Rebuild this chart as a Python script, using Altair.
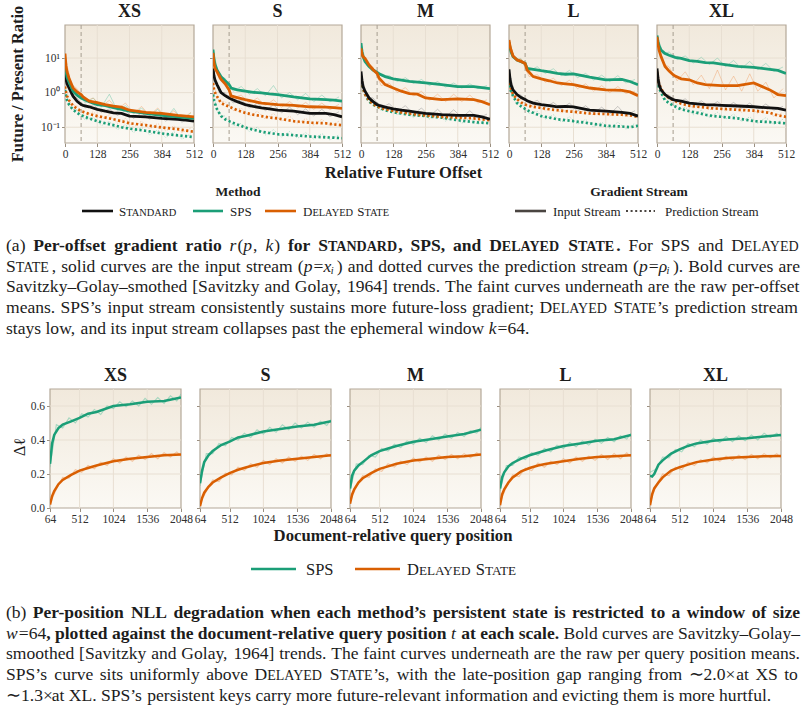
import altair as alt
import pandas as pd

FONT = "Liberation Serif"
INK = "#1c1c1c"
LABEL = "#2f2f2f"
FRAME = "#b4a898"
TICK = "#9a8f80"
GRID = "#e8dfd2"
BG_TOP = "#f1e9dc"
BG_BOTTOM = "#fbf9f4"
WINDOW_COLOR = "#ada597"

SCALE_NAMES = ["XS", "S", "M", "L", "XL"]
METHOD_COLORS = {"Standard": "#111111", "SPS": "#1b9e77", "Delayed State": "#d95f02"}
RAW_COLORS = {"Standard": "#8c8c8c", "SPS": "#67c4a4", "Delayed State": "#efa066"}

# ---------------------------------------------------------------- (a) data
OFFSETS = [0, 4, 8, 16, 32, 48, 64, 72, 96, 128, 160, 192, 224, 256, 320, 384, 448, 480, 512]
RAW_OFFSETS = [2, 24, 48, 80, 112, 144, 176, 208, 240, 272, 304, 336, 368, 400, 432, 464, 500]
OFFSET_TICKS = [0, 128, 256, 384, 512]
OFFSET_GRID = [128, 256, 384]
RATIO_TICKS = [0.1, 1, 10]
EPHEMERAL_WINDOW = [64]

XS_STANDARD = [4.1, 2.4, 1.8, 1.36, 0.79, 0.56, 0.45, 0.43, 0.39, 0.33, 0.29, 0.26, 0.25, 0.21, 0.20, 0.18, 0.17, 0.16, 0.15]
XS_SPS_INPUT = [8.0, 4.0, 2.8, 2.0, 1.1, 0.85, 0.70, 0.65, 0.55, 0.45, 0.42, 0.37, 0.33, 0.29, 0.25, 0.22, 0.20, 0.19, 0.18]
XS_SPS_PRED = [1.2, 0.8, 0.6, 0.45, 0.32, 0.26, 0.22, 0.21, 0.18, 0.15, 0.13, 0.115, 0.10, 0.091, 0.079, 0.066, 0.058, 0.055, 0.052]
XS_DS_INPUT = [13.5, 6.0, 4.0, 2.6, 1.36, 1.05, 0.88, 0.75, 0.57, 0.51, 0.45, 0.41, 0.38, 0.31, 0.27, 0.25, 0.22, 0.21, 0.20]
XS_DS_PRED = [1.5, 1.0, 0.8, 0.6, 0.42, 0.34, 0.29, 0.28, 0.24, 0.21, 0.19, 0.17, 0.15, 0.13, 0.115, 0.098, 0.088, 0.080, 0.074]

S_STANDARD = [5.0, 3.0, 2.3, 1.7, 1.0, 0.82, 0.70, 0.65, 0.55, 0.45, 0.40, 0.36, 0.34, 0.31, 0.29, 0.25, 0.25, 0.23, 0.20]
S_SPS_INPUT = [17.6, 9.0, 6.5, 4.5, 2.9, 2.2, 1.7, 1.36, 1.2, 1.1, 1.02, 0.98, 0.92, 0.88, 0.75, 0.66, 0.63, 0.61, 0.57]
S_SPS_PRED = [0.88, 0.6, 0.48, 0.33, 0.21, 0.17, 0.15, 0.14, 0.12, 0.098, 0.085, 0.074, 0.068, 0.063, 0.059, 0.054, 0.051, 0.050, 0.048]
S_DS_INPUT = [14.0, 7.0, 5.0, 4.0, 2.4, 1.8, 1.2, 0.80, 0.72, 0.63, 0.56, 0.50, 0.47, 0.45, 0.43, 0.39, 0.38, 0.37, 0.35]
S_DS_PRED = [1.9, 1.2, 1.0, 0.78, 0.50, 0.44, 0.39, 0.37, 0.31, 0.26, 0.23, 0.21, 0.19, 0.18, 0.15, 0.135, 0.13, 0.12, 0.115]

M_STANDARD = [4.1, 2.2, 1.5, 1.1, 0.70, 0.55, 0.45, 0.43, 0.38, 0.34, 0.31, 0.29, 0.27, 0.25, 0.23, 0.22, 0.22, 0.20, 0.17]
M_SPS_INPUT = [27.0, 15.0, 11.0, 7.9, 5.7, 4.5, 3.8, 3.5, 2.9, 2.5, 2.3, 2.1, 2.0, 1.9, 1.7, 1.5, 1.5, 1.4, 1.3]
M_SPS_PRED = [3.0, 1.8, 1.3, 0.9, 0.55, 0.45, 0.39, 0.37, 0.31, 0.27, 0.25, 0.23, 0.22, 0.21, 0.19, 0.16, 0.14, 0.135, 0.13]
M_DS_INPUT = [19.0, 13.0, 11.0, 9.8, 6.3, 4.6, 3.6, 2.6, 1.7, 1.36, 1.1, 0.94, 0.90, 0.70, 0.63, 0.66, 0.63, 0.55, 0.45]
M_DS_PRED = [3.0, 1.9, 1.4, 0.9, 0.6, 0.47, 0.40, 0.38, 0.33, 0.30, 0.27, 0.25, 0.23, 0.22, 0.20, 0.19, 0.18, 0.17, 0.16]

L_STANDARD = [4.7, 2.5, 1.7, 1.2, 0.88, 0.72, 0.63, 0.58, 0.50, 0.45, 0.42, 0.39, 0.40, 0.39, 0.31, 0.29, 0.27, 0.25, 0.21]
L_SPS_INPUT = [29.0, 20.0, 15.0, 11.0, 8.8, 7.8, 7.0, 5.0, 4.7, 4.3, 4.0, 3.6, 3.4, 3.5, 2.8, 2.35, 2.4, 2.1, 1.7]
L_SPS_PRED = [3.0, 1.6, 1.1, 0.8, 0.5, 0.4, 0.34, 0.31, 0.26, 0.21, 0.19, 0.17, 0.16, 0.15, 0.13, 0.11, 0.105, 0.10, 0.11]
L_DS_INPUT = [33.0, 22.0, 17.0, 11.4, 8.8, 8.0, 7.0, 4.5, 2.9, 2.5, 2.2, 1.9, 1.8, 1.7, 1.36, 1.2, 1.16, 1.05, 0.82]
L_DS_PRED = [3.5, 2.0, 1.3, 0.9, 0.65, 0.52, 0.45, 0.43, 0.39, 0.36, 0.33, 0.31, 0.29, 0.28, 0.25, 0.24, 0.23, 0.22, 0.20]

XL_STANDARD = [5.0, 2.6, 1.7, 1.2, 0.88, 0.72, 0.63, 0.61, 0.57, 0.50, 0.47, 0.45, 0.44, 0.43, 0.41, 0.39, 0.36, 0.35, 0.31]
XL_SPS_INPUT = [45.0, 30.0, 23.0, 17.0, 13.5, 12.0, 11.0, 10.5, 9.8, 8.4, 8.0, 7.4, 7.2, 6.7, 5.7, 5.4, 4.7, 4.4, 3.6]
XL_SPS_PRED = [3.0, 1.8, 1.4, 1.0, 0.6, 0.5, 0.42, 0.40, 0.33, 0.29, 0.26, 0.23, 0.21, 0.20, 0.18, 0.15, 0.14, 0.135, 0.13]
XL_DS_INPUT = [41.0, 25.0, 17.0, 11.0, 5.7, 4.2, 3.3, 3.0, 2.5, 2.35, 1.9, 1.7, 1.65, 1.6, 1.6, 1.9, 1.2, 0.88, 0.82]
XL_DS_PRED = [4.0, 2.4, 1.8, 1.3, 0.85, 0.7, 0.6, 0.57, 0.48, 0.42, 0.39, 0.37, 0.35, 0.34, 0.32, 0.30, 0.26, 0.22, 0.20]

# raw per-offset means (faint curves)
XS_STANDARD_RAW = [3.3, 0.85, 0.7, 0.36, 0.45, 0.27, 0.34, 0.22, 0.3, 0.18, 0.26, 0.17, 0.24, 0.15, 0.22, 0.14, 0.19]
XS_SPS_INPUT_RAW = [6.5, 1.3, 1.1, 0.5, 0.7, 0.38, 0.9, 0.3, 0.42, 0.24, 0.36, 0.21, 0.33, 0.18, 0.35, 0.16, 0.26]
XS_SPS_PRED_RAW = [1.1, 0.33, 0.32, 0.16, 0.2, 0.11, 0.15, 0.085, 0.12, 0.07, 0.1, 0.06, 0.085, 0.05, 0.075, 0.045, 0.065]
XS_DS_INPUT_RAW = [10.0, 1.8, 1.3, 0.55, 0.7, 0.4, 0.6, 0.33, 0.5, 0.25, 0.4, 0.22, 0.36, 0.19, 0.3, 0.17, 0.27]
XS_DS_PRED_RAW = [1.4, 0.44, 0.42, 0.21, 0.28, 0.17, 0.23, 0.13, 0.18, 0.1, 0.15, 0.088, 0.13, 0.078, 0.11, 0.07, 0.095]

S_STANDARD_RAW = [4.4, 1.0, 1.0, 0.5, 0.62, 0.36, 0.5, 0.3, 0.45, 0.26, 0.38, 0.23, 0.34, 0.21, 0.33, 0.2, 0.28]
S_SPS_INPUT_RAW = [15.0, 2.9, 2.6, 1.1, 1.5, 0.9, 1.3, 0.82, 1.6, 0.7, 1.0, 0.62, 0.95, 0.55, 0.85, 0.54, 0.75]
S_SPS_PRED_RAW = [0.8, 0.23, 0.21, 0.11, 0.13, 0.075, 0.1, 0.06, 0.085, 0.052, 0.075, 0.048, 0.07, 0.045, 0.066, 0.043, 0.06]
S_DS_INPUT_RAW = [12.0, 2.5, 2.2, 0.7, 0.85, 0.5, 0.7, 0.42, 0.62, 0.38, 0.55, 0.36, 0.52, 0.33, 0.5, 0.32, 0.46]
S_DS_PRED_RAW = [1.7, 0.55, 0.55, 0.3, 0.36, 0.21, 0.29, 0.17, 0.25, 0.15, 0.21, 0.125, 0.18, 0.115, 0.17, 0.108, 0.15]

M_STANDARD_RAW = [3.3, 0.75, 0.7, 0.36, 0.48, 0.28, 0.42, 0.24, 0.36, 0.21, 0.33, 0.2, 0.32, 0.19, 0.3, 0.18, 0.24]
M_SPS_INPUT_RAW = [23.0, 6.0, 5.2, 3.0, 3.1, 2.1, 2.7, 1.85, 2.4, 1.6, 2.1, 1.45, 1.9, 1.35, 1.8, 1.3, 1.6]
M_SPS_PRED_RAW = [2.6, 0.62, 0.55, 0.3, 0.36, 0.23, 0.3, 0.19, 0.28, 0.17, 0.24, 0.15, 0.21, 0.13, 0.19, 0.12, 0.17]
M_DS_INPUT_RAW = [18.0, 7.0, 5.5, 1.6, 1.9, 1.0, 1.4, 0.8, 1.1, 0.6, 0.9, 0.55, 0.9, 0.55, 0.85, 0.5, 0.62]
M_DS_PRED_RAW = [2.6, 0.65, 0.58, 0.32, 0.4, 0.25, 0.33, 0.21, 0.29, 0.18, 0.26, 0.17, 0.25, 0.16, 0.23, 0.15, 0.2]

L_STANDARD_RAW = [3.6, 0.9, 0.85, 0.48, 0.6, 0.38, 0.52, 0.34, 0.5, 0.29, 0.42, 0.26, 0.38, 0.24, 0.4, 0.22, 0.3]
L_SPS_INPUT_RAW = [25.0, 9.0, 9.5, 4.3, 5.6, 3.6, 4.9, 3.1, 4.4, 2.7, 3.6, 2.3, 3.2, 2.1, 3.1, 1.9, 2.4]
L_SPS_PRED_RAW = [2.5, 0.53, 0.5, 0.25, 0.29, 0.17, 0.23, 0.14, 0.2, 0.12, 0.17, 0.1, 0.14, 0.092, 0.14, 0.088, 0.13]
L_DS_INPUT_RAW = [28.0, 9.0, 9.4, 2.9, 3.3, 2.0, 2.6, 1.6, 2.3, 1.3, 1.8, 1.1, 1.6, 1.0, 1.5, 0.95, 1.1]
L_DS_PRED_RAW = [2.8, 0.68, 0.62, 0.37, 0.46, 0.3, 0.4, 0.26, 0.36, 0.24, 0.32, 0.22, 0.3, 0.21, 0.29, 0.2, 0.25]

XL_STANDARD_RAW = [3.8, 0.9, 0.85, 0.53, 0.66, 0.43, 0.58, 0.39, 0.55, 0.37, 0.52, 0.35, 0.5, 0.33, 0.47, 0.31, 0.4]
XL_SPS_INPUT_RAW = [42.0, 13.0, 15.0, 9.0, 11.5, 7.2, 10.5, 6.5, 10.0, 5.6, 8.5, 5.0, 8.0, 4.6, 7.0, 4.1, 5.5]
XL_SPS_PRED_RAW = [2.7, 0.66, 0.62, 0.31, 0.38, 0.23, 0.31, 0.19, 0.27, 0.17, 0.24, 0.145, 0.2, 0.13, 0.19, 0.12, 0.17]
XL_DS_INPUT_RAW = [36.0, 7.0, 5.5, 2.2, 4.0, 1.7, 3.2, 1.3, 4.5, 1.2, 3.0, 1.1, 3.5, 1.1, 2.0, 0.7, 1.3]
XL_DS_PRED_RAW = [3.6, 0.9, 0.85, 0.45, 0.56, 0.35, 0.5, 0.31, 0.46, 0.29, 0.43, 0.27, 0.4, 0.25, 0.36, 0.2, 0.27]

RATIO_SERIES = {
    "XS": [("Standard", "input", XS_STANDARD, XS_STANDARD_RAW),
           ("SPS", "input", XS_SPS_INPUT, XS_SPS_INPUT_RAW),
           ("SPS", "prediction", XS_SPS_PRED, XS_SPS_PRED_RAW),
           ("Delayed State", "input", XS_DS_INPUT, XS_DS_INPUT_RAW),
           ("Delayed State", "prediction", XS_DS_PRED, XS_DS_PRED_RAW)],
    "S": [("Standard", "input", S_STANDARD, S_STANDARD_RAW),
          ("SPS", "input", S_SPS_INPUT, S_SPS_INPUT_RAW),
          ("SPS", "prediction", S_SPS_PRED, S_SPS_PRED_RAW),
          ("Delayed State", "input", S_DS_INPUT, S_DS_INPUT_RAW),
          ("Delayed State", "prediction", S_DS_PRED, S_DS_PRED_RAW)],
    "M": [("Standard", "input", M_STANDARD, M_STANDARD_RAW),
          ("SPS", "input", M_SPS_INPUT, M_SPS_INPUT_RAW),
          ("SPS", "prediction", M_SPS_PRED, M_SPS_PRED_RAW),
          ("Delayed State", "input", M_DS_INPUT, M_DS_INPUT_RAW),
          ("Delayed State", "prediction", M_DS_PRED, M_DS_PRED_RAW)],
    "L": [("Standard", "input", L_STANDARD, L_STANDARD_RAW),
          ("SPS", "input", L_SPS_INPUT, L_SPS_INPUT_RAW),
          ("SPS", "prediction", L_SPS_PRED, L_SPS_PRED_RAW),
          ("Delayed State", "input", L_DS_INPUT, L_DS_INPUT_RAW),
          ("Delayed State", "prediction", L_DS_PRED, L_DS_PRED_RAW)],
    "XL": [("Standard", "input", XL_STANDARD, XL_STANDARD_RAW),
           ("SPS", "input", XL_SPS_INPUT, XL_SPS_INPUT_RAW),
           ("SPS", "prediction", XL_SPS_PRED, XL_SPS_PRED_RAW),
           ("Delayed State", "input", XL_DS_INPUT, XL_DS_INPUT_RAW),
           ("Delayed State", "prediction", XL_DS_PRED, XL_DS_PRED_RAW)],
}

# ---------------------------------------------------------------- (b) data
QUERY_POS = [64, 96, 128, 192, 256, 384, 512, 640, 768, 1024, 1280, 1536, 1792, 2048]
RAW_QUERY_POS = [64, 160, 256, 352, 448, 544, 640, 736, 832, 928, 1024, 1120, 1216, 1312,
                 1408, 1504, 1600, 1696, 1792, 1888, 1984, 2048]
POS_TICKS = [64, 512, 1024, 1536, 2048]
POS_GRID = [512, 1024, 1536]
NLL_TICKS = [0.0, 0.2, 0.4, 0.6]

XS_SPS_NLL = [0.26, 0.38, 0.43, 0.47, 0.49, 0.51, 0.53, 0.555, 0.565, 0.60, 0.61, 0.625, 0.63, 0.65]
XS_DS_NLL = [0.02, 0.07, 0.10, 0.14, 0.165, 0.195, 0.22, 0.235, 0.25, 0.275, 0.29, 0.30, 0.31, 0.315]
S_SPS_NLL = [0.145, 0.22, 0.27, 0.31, 0.335, 0.37, 0.39, 0.415, 0.425, 0.45, 0.465, 0.48, 0.49, 0.51]
S_DS_NLL = [0.01, 0.06, 0.09, 0.125, 0.15, 0.18, 0.205, 0.225, 0.24, 0.265, 0.28, 0.29, 0.30, 0.31]
M_SPS_NLL = [0.115, 0.19, 0.22, 0.25, 0.27, 0.31, 0.335, 0.35, 0.365, 0.39, 0.405, 0.42, 0.435, 0.46]
M_DS_NLL = [0.025, 0.08, 0.11, 0.15, 0.175, 0.205, 0.23, 0.245, 0.26, 0.28, 0.29, 0.30, 0.305, 0.315]
L_SPS_NLL = [0.114, 0.18, 0.21, 0.245, 0.265, 0.29, 0.31, 0.325, 0.34, 0.365, 0.38, 0.395, 0.405, 0.43]
L_DS_NLL = [0.016, 0.08, 0.11, 0.15, 0.18, 0.215, 0.235, 0.25, 0.26, 0.275, 0.29, 0.30, 0.305, 0.31]
XL_SPS_NLL = [0.19, 0.185, 0.20, 0.255, 0.28, 0.32, 0.345, 0.365, 0.38, 0.395, 0.405, 0.41, 0.42, 0.43]
XL_DS_NLL = [0.016, 0.08, 0.115, 0.15, 0.18, 0.22, 0.24, 0.255, 0.27, 0.285, 0.295, 0.30, 0.305, 0.306]

XS_SPS_NLL_RAW = [0.24, 0.49, 0.47, 0.53, 0.5, 0.555, 0.535, 0.58, 0.55, 0.6, 0.585, 0.625, 0.595, 0.63, 0.6, 0.645, 0.61, 0.65, 0.615, 0.66, 0.63, 0.67]
XS_DS_NLL_RAW = [0.03, 0.11, 0.18, 0.175, 0.225, 0.21, 0.25, 0.23, 0.27, 0.25, 0.29, 0.265, 0.3, 0.275, 0.31, 0.285, 0.32, 0.29, 0.325, 0.3, 0.33, 0.305]
S_SPS_NLL_RAW = [0.13, 0.32, 0.32, 0.38, 0.365, 0.415, 0.4, 0.44, 0.415, 0.46, 0.435, 0.475, 0.445, 0.49, 0.46, 0.5, 0.47, 0.505, 0.475, 0.51, 0.485, 0.52]
S_DS_NLL_RAW = [0.02, 0.1, 0.165, 0.155, 0.205, 0.195, 0.24, 0.22, 0.26, 0.24, 0.28, 0.255, 0.29, 0.265, 0.3, 0.275, 0.305, 0.28, 0.315, 0.29, 0.32, 0.3]
M_SPS_NLL_RAW = [0.1, 0.26, 0.255, 0.31, 0.3, 0.35, 0.335, 0.375, 0.355, 0.395, 0.375, 0.41, 0.385, 0.425, 0.4, 0.435, 0.41, 0.445, 0.42, 0.455, 0.44, 0.475]
M_DS_NLL_RAW = [0.035, 0.125, 0.19, 0.18, 0.23, 0.215, 0.26, 0.24, 0.275, 0.255, 0.295, 0.27, 0.3, 0.275, 0.31, 0.285, 0.315, 0.29, 0.32, 0.295, 0.325, 0.305]
L_SPS_NLL_RAW = [0.1, 0.25, 0.25, 0.3, 0.285, 0.325, 0.31, 0.35, 0.33, 0.37, 0.35, 0.385, 0.36, 0.395, 0.37, 0.405, 0.38, 0.415, 0.39, 0.425, 0.405, 0.44]
L_DS_NLL_RAW = [0.03, 0.125, 0.195, 0.185, 0.235, 0.22, 0.265, 0.24, 0.275, 0.255, 0.29, 0.265, 0.3, 0.275, 0.305, 0.28, 0.315, 0.285, 0.32, 0.29, 0.325, 0.3]
XL_SPS_NLL_RAW = [0.21, 0.23, 0.3, 0.295, 0.345, 0.33, 0.38, 0.36, 0.4, 0.375, 0.41, 0.385, 0.42, 0.39, 0.425, 0.395, 0.43, 0.4, 0.44, 0.415, 0.44, 0.42]
XL_DS_NLL_RAW = [0.03, 0.135, 0.2, 0.19, 0.24, 0.225, 0.27, 0.25, 0.285, 0.265, 0.3, 0.275, 0.305, 0.28, 0.31, 0.285, 0.315, 0.29, 0.32, 0.295, 0.32, 0.295]

NLL_SERIES = {
    "XS": [("SPS", XS_SPS_NLL, XS_SPS_NLL_RAW), ("Delayed State", XS_DS_NLL, XS_DS_NLL_RAW)],
    "S": [("SPS", S_SPS_NLL, S_SPS_NLL_RAW), ("Delayed State", S_DS_NLL, S_DS_NLL_RAW)],
    "M": [("SPS", M_SPS_NLL, M_SPS_NLL_RAW), ("Delayed State", M_DS_NLL, M_DS_NLL_RAW)],
    "L": [("SPS", L_SPS_NLL, L_SPS_NLL_RAW), ("Delayed State", L_DS_NLL, L_DS_NLL_RAW)],
    "XL": [("SPS", XL_SPS_NLL, XL_SPS_NLL_RAW), ("Delayed State", XL_DS_NLL, XL_DS_NLL_RAW)],
}

# ---------------------------------------------------------------- captions
CAPTION_A = [
    [("n", "(a) "), ("b", "Per-offset gradient ratio "), ("i", "r"), ("n", "("), ("i", "p"), ("n", ", "),
     ("i", "k"), ("n", ")"), ("b", " for S"), ("bsc", "tandard"), ("b", ", SPS, and D"), ("bsc", "elayed"),
     ("b", " S"), ("bsc", "tate"), ("b", "."), ("n", " For SPS and D"), ("sc", "elayed")],
    [("n", "S"), ("sc", "tate"), ("n", ", solid curves are the input stream ("), ("i", "p"), ("n", "="),
     ("i", "xᵢ"), ("n", ") and dotted curves the prediction stream ("), ("i", "p"), ("n", "="),
     ("i", "ρᵢ"), ("n", "). Bold curves are")],
    [("n", "Savitzky–Golay–smothed [Savitzky and Golay, 1964] trends. The faint curves underneath are the raw per-offset")],
    [("n", "means. SPS’s input stream consistently sustains more future-loss gradient; D"), ("sc", "elayed"),
     ("n", " S"), ("sc", "tate"), ("n", "’s prediction stream")],
    [("n", "stays low, and its input stream collapses past the ephemeral window "), ("i", "k"), ("n", "=64.")],
]
CAPTION_B = [
    [("n", "(b) "), ("b", "Per-position NLL degradation when each method’s persistent state is restricted to a window of size")],
    [("i", "w"), ("n", "=64"), ("b", ", plotted against the document-relative query position "), ("i", "t"),
     ("b", " at each scale."), ("n", " Bold curves are Savitzky–Golay–")],
    [("n", "smoothed [Savitzky and Golay, 1964] trends. The faint curves underneath are the raw per query position means.")],
    [("n", "SPS’s curve sits uniformly above D"), ("sc", "elayed"), ("n", " S"), ("sc", "tate"),
     ("n", "’s, with the late-position gap ranging from ∼2.0× at XS to")],
    [("n", "∼1.3× at XL. SPS’s persistent keys carry more future-relevant information and evicting them is more hurtful.")],
]

# ---------------------------------------------------------------- text metrics (Times-compatible)
_UP = "ABCDEFGHIJKLMNOPQRSTUVWXYZ"
_LO = "abcdefghijklmnopqrstuvwxyz"
ROMAN = dict(zip(_UP, [722, 667, 667, 722, 611, 556, 722, 722, 333, 389, 722, 611, 889, 722, 722, 556, 722, 667, 556, 611, 722, 722, 944, 722, 722, 611]))
ROMAN.update(zip(_LO, [444, 500, 444, 500, 444, 333, 500, 500, 278, 278, 500, 278, 778, 500, 500, 500, 500, 333, 389, 278, 500, 500, 722, 500, 500, 444]))
BOLD = dict(zip(_UP, [722, 667, 722, 722, 667, 611, 778, 778, 389, 500, 778, 667, 944, 722, 778, 611, 778, 722, 556, 667, 722, 722, 1000, 722, 722, 667]))
BOLD.update(zip(_LO, [500, 556, 444, 556, 444, 333, 500, 556, 278, 333, 556, 278, 833, 556, 500, 556, 556, 444, 389, 333, 556, 500, 722, 500, 500, 444]))
ITALIC = dict(zip(_LO, [500, 500, 444, 500, 444, 278, 500, 500, 278, 278, 444, 278, 722, 500, 500, 500, 500, 389, 389, 278, 500, 444, 667, 444, 444, 389]))
_PUNCT = {" ": 250, "(": 333, ")": 333, ",": 250, ".": 250, "-": 333, "–": 500, "’": 333, "[": 333,
          "]": 333, ";": 278, ":": 278, "=": 564, "×": 564, "∼": 541, "ρ": 500, "/": 278, "ᵢ": 250}
for _table in (ROMAN, BOLD, ITALIC):
    _table.update({d: 500 for d in "0123456789"})
    _table.update(_PUNCT)

SMALL_CAP = 0.8
ITALIC_CORRECTION = 0.06


def glyph_width(ch, style):
    table = BOLD if style in ("b", "bsc") else ITALIC if style == "i" else ROMAN
    if style in ("sc", "bsc"):
        return table.get(ch.upper(), 600) * SMALL_CAP
    return table.get(ch, ROMAN.get(ch, 500))


def run_width(text, style, fs):
    w = sum(glyph_width(c, style) for c in text) * fs / 1000.0
    if style == "i":
        w += ITALIC_CORRECTION * fs  # room for the slanted glyph's overhang
    return w


def split_runs(runs):
    pieces, gap = [], False
    for style, txt in runs:
        for j, part in enumerate(txt.split(" ")):
            if j > 0:
                gap = True
            if part:
                pieces.append((style, part, gap))
                gap = False
    return pieces


def natural_width(runs, fs):
    pieces = split_runs(runs)
    return sum(run_width(t, s, fs) for s, t, _ in pieces) + 0.25 * fs * sum(1 for *_, g in pieces if g)


def set_line(runs, x0, y, fs, width=None):
    pieces = split_runs(runs)
    space = 0.25 * fs
    gaps = sum(1 for *_, g in pieces if g)
    extra = (width - natural_width(runs, fs)) / gaps if (width and gaps) else 0.0
    items, x, prev = [], x0, None
    for style, text, gap in pieces:
        if gap:
            x += space + extra
        elif prev in ("sc", "bsc") and text.startswith("’"):
            x -= 0.12 * fs  # tuck the apostrophe against a small-cap word
        size = fs * (SMALL_CAP if style in ("sc", "bsc") else 1.0)
        items.append({
            "x": x, "y": y,
            "text": text.upper() if style in ("sc", "bsc") else text,
            "size": size, "weight": "bold" if style in ("b", "bsc") else "normal",
            "italic": style == "i", "align": "left",
        })
        x += run_width(text, style, fs)
        prev = style
    return items


def centered(text, x, y, fs, weight="bold"):
    return [{"x": x, "y": y, "text": text, "size": fs, "weight": weight, "italic": False, "align": "center"}]


def text_layers(items):
    df = pd.DataFrame(items)
    layers = []
    for (weight, italic, align), sub in df.groupby(["weight", "italic", "align"]):
        layers.append(
            alt.Chart(sub).mark_text(
                font=FONT, fontWeight=weight, fontStyle="italic" if italic else "normal",
                align=align, baseline="alphabetic", color=INK,
            ).encode(
                x=alt.X("x:Q", scale=None, axis=None),
                y=alt.Y("y:Q", scale=None, axis=None),
                text="text:N",
                size=alt.Size("size:Q", scale=None, legend=None),
            )
        )
    return layers


def swatch_layers(rows):
    df = pd.DataFrame(rows)
    layers = []
    for dotted, sub in df.groupby("dotted"):
        mark = (alt.Chart(sub).mark_rule(strokeWidth=2.2, strokeDash=[2, 2.6]) if dotted
                else alt.Chart(sub).mark_rule(strokeWidth=2.6))
        layers.append(mark.encode(
            x=alt.X("x:Q", scale=None, axis=None), x2="x2:Q",
            y=alt.Y("y:Q", scale=None, axis=None),
            color=alt.Color("color:N", scale=None),
        ))
    return layers


CAPTION_X, CAPTION_W = 6, 794
# the widest caption line fills the measure exactly; the rest are justified to it
CAPTION_FS = min(18.0, CAPTION_W / max(natural_width(r, 1.0) for r in CAPTION_A + CAPTION_B))


def caption_items(lines, baselines):
    items = []
    for k, (runs, y) in enumerate(zip(lines, baselines)):
        last = k == len(lines) - 1
        items += set_line(runs, CAPTION_X, y, CAPTION_FS, None if last else CAPTION_W)
    return items


ONE = pd.DataFrame({"k": [0]})
GRADIENT = alt.LinearGradient(
    gradient="linear",
    stops=[alt.GradientStop(color=BG_TOP, offset=0), alt.GradientStop(color=BG_BOTTOM, offset=1)],
    x1=0, x2=0, y1=0, y2=1,
)


def panel_background(w, h):
    return alt.Chart(ONE).mark_rect(color=GRADIENT, stroke=FRAME, strokeWidth=1.2).encode(
        x=alt.value(0), x2=alt.value(w), y=alt.value(0), y2=alt.value(h))


def axis_common():
    return dict(title=None, grid=False, domain=False, labelFlush=False, labelOverlap=False,
                tickSize=3.5, tickColor=TICK, tickWidth=1, labelFont=FONT, labelFontSize=11.5,
                labelColor=LABEL, labelPadding=2)


def panel_title(name):
    return alt.TitleParams(name, font=FONT, fontSize=18, fontWeight="bold", color=INK, offset=3, anchor="middle")


# ---------------------------------------------------------------- (a) panels
PW_A, PH_A = 129, 118


def ratio_panel(i, name):
    sx = alt.Scale(domain=[0, 512], nice=False, zero=False)
    sy = alt.Scale(type="log", domain=[0.035, 90], nice=False)
    ax = alt.Axis(values=OFFSET_TICKS, format="d", **axis_common())
    ykw = dict(values=RATIO_TICKS, labels=(i == 0), **axis_common())
    if i == 0:
        ykw["labelExpr"] = "datum.value > 5 ? '10¹' : (datum.value > 0.5 ? '10⁰' : '10⁻¹')"
    ay = alt.Axis(**ykw)

    rows, raw_rows = [], []
    for method, stream, smooth, raw in RATIO_SERIES[name]:
        for o, v in zip(OFFSETS, smooth):
            rows.append({"off": o, "val": v, "method": method, "stream": stream,
                         "color": METHOD_COLORS[method]})
        for o, v in zip(RAW_OFFSETS, raw):
            raw_rows.append({"off": o, "val": v, "method": method, "stream": stream,
                             "color": RAW_COLORS[method]})
    sm = pd.DataFrame(rows)
    rw = pd.DataFrame(raw_rows)

    def lines(df, **mark):
        return alt.Chart(df).mark_line(clip=True, **mark).encode(
            x=alt.X("off:Q", scale=sx, axis=ax),
            y=alt.Y("val:Q", scale=sy, axis=ay),
            color=alt.Color("color:N", scale=None),
            detail="method:N",
        )

    grid_x = alt.Chart(pd.DataFrame({"v": OFFSET_GRID})).mark_rule(color=GRID, strokeWidth=1).encode(
        x=alt.X("v:Q", scale=sx, axis=ax))
    grid_y = alt.Chart(pd.DataFrame({"v": RATIO_TICKS})).mark_rule(color=GRID, strokeWidth=1).encode(
        y=alt.Y("v:Q", scale=sy, axis=ay))
    window = alt.Chart(pd.DataFrame({"v": EPHEMERAL_WINDOW})).mark_rule(
        color=WINDOW_COLOR, strokeDash=[4, 3], strokeWidth=1.1).encode(x=alt.X("v:Q", scale=sx, axis=ax))

    return alt.layer(
        panel_background(PW_A, PH_A), grid_x, grid_y, window,
        lines(rw[rw.stream == "input"], strokeWidth=0.9, opacity=0.5),
        lines(rw[rw.stream == "prediction"], strokeWidth=0.9, opacity=0.5, strokeDash=[1.5, 1.5]),
        lines(sm[sm.stream == "prediction"], strokeWidth=2.7, strokeDash=[2.2, 2.4]),
        lines(sm[sm.stream == "input"], strokeWidth=2.8),
    ).properties(width=PW_A, height=PH_A, title=panel_title(name))


# ---------------------------------------------------------------- (b) panels
PW_B, PH_B = 131, 119


def nll_panel(i, name):
    sx = alt.Scale(domain=[64, 2048], nice=False, zero=False)
    sy = alt.Scale(domain=[0, 0.7], nice=False)
    ax = alt.Axis(values=POS_TICKS, format="d", **axis_common())
    ay = alt.Axis(values=NLL_TICKS, format=".1f", labels=(i == 0), **axis_common())

    rows, raw_rows = [], []
    for method, smooth, raw in NLL_SERIES[name]:
        for q, v in zip(QUERY_POS, smooth):
            rows.append({"pos": q, "val": v, "method": method, "color": METHOD_COLORS[method]})
        for q, v in zip(RAW_QUERY_POS, raw):
            raw_rows.append({"pos": q, "val": v, "method": method, "color": RAW_COLORS[method]})

    def lines(df, **mark):
        return alt.Chart(df).mark_line(clip=True, **mark).encode(
            x=alt.X("pos:Q", scale=sx, axis=ax),
            y=alt.Y("val:Q", scale=sy, axis=ay),
            color=alt.Color("color:N", scale=None),
            detail="method:N",
        )

    grid_x = alt.Chart(pd.DataFrame({"v": POS_GRID})).mark_rule(color=GRID, strokeWidth=1).encode(
        x=alt.X("v:Q", scale=sx, axis=ax))
    grid_y = alt.Chart(pd.DataFrame({"v": NLL_TICKS[1:]})).mark_rule(color=GRID, strokeWidth=1).encode(
        y=alt.Y("v:Q", scale=sy, axis=ay))

    return alt.layer(
        panel_background(PW_B, PH_B), grid_x, grid_y,
        lines(pd.DataFrame(raw_rows), strokeWidth=1.1, opacity=0.55),
        lines(pd.DataFrame(rows), strokeWidth=2.5),
    ).properties(width=PW_B, height=PH_B, title=panel_title(name))


def side_column(text, width, height, x, y, size, weight, above, below):
    """Left column of a row: the rotated y title plus an invisible rule that fixes the row's extent."""
    label = alt.Chart(pd.DataFrame({"t": [text]})).mark_text(
        font=FONT, fontSize=size, fontWeight=weight, angle=270, align="center",
        baseline="middle", color=INK,
    ).encode(x=alt.value(x), y=alt.value(y), text="t:N")
    extent = alt.Chart(ONE).mark_rule(opacity=0).encode(
        x=alt.value(1), y=alt.value(-above), y2=alt.value(height + below))
    return alt.layer(extent, label).properties(width=width, height=height)


# ---------------------------------------------------------------- assembly
top_row = alt.hconcat(
    side_column("Future / Present Ratio", 46, PH_A, 18, 59, 16.5, "bold", 25, 18),
    *[ratio_panel(i, n) for i, n in enumerate(SCALE_NAMES)],
    spacing=19, bounds="flush",
)

# legend + caption block under the gradient-ratio panels (starts 18 px below their plot area)
items_a = centered("Relative Future Offset", 403.5, 14.5, 16.5)
items_a += centered("Method", 238, 32.5, 13.5)
items_a += centered("Gradient Stream", 639, 32.5, 13.5)
items_a += set_line([("n", "S"), ("sc", "tandard")], 119, 52.5, 13)
items_a += set_line([("n", "SPS")], 230, 52.5, 13)
items_a += set_line([("n", "D"), ("sc", "elayed"), ("n", " S"), ("sc", "tate")], 303, 52.5, 13)
items_a += set_line([("n", "Input Stream")], 553, 52.5, 13)
items_a += set_line([("n", "Prediction Stream")], 665, 52.5, 13)
items_a += caption_items(CAPTION_A, [88, 109, 129, 150, 171])
swatches_a = [
    {"x": 82, "x2": 113, "y": 48, "color": METHOD_COLORS["Standard"], "dotted": False},
    {"x": 193, "x2": 223, "y": 48, "color": METHOD_COLORS["SPS"], "dotted": False},
    {"x": 265, "x2": 296, "y": 48, "color": METHOD_COLORS["Delayed State"], "dotted": False},
    {"x": 515, "x2": 546, "y": 48, "color": "#4a4541", "dotted": False},
    {"x": 626, "x2": 655, "y": 48, "color": "#4a4541", "dotted": True},
]
block_a = alt.layer(*swatch_layers(swatches_a), *text_layers(items_a)).properties(width=808, height=201)

bottom_row = alt.hconcat(
    side_column("Δℓ", 31, PH_B, 20, 58, 16, "normal", 25, 18),
    *[nll_panel(i, n) for i, n in enumerate(SCALE_NAMES)],
    spacing=19, bounds="flush",
)

items_b = centered("Document-relative query position", 393, 15, 16.7)
items_b += set_line([("n", "SPS")], 306, 48.5, 16.5)
items_b += set_line([("n", "D"), ("sc", "elayed"), ("n", " S"), ("sc", "tate")], 407, 48.5, 16.5)
items_b += caption_items(CAPTION_B, [92, 113, 133, 154, 175])
swatches_b = [
    {"x": 251, "x2": 296, "y": 43, "color": METHOD_COLORS["SPS"], "dotted": False},
    {"x": 355, "x2": 400, "y": 43, "color": METHOD_COLORS["Delayed State"], "dotted": False},
]
block_b = alt.layer(*swatch_layers(swatches_b), *text_layers(items_b)).properties(width=808, height=183)

chart = alt.vconcat(
    top_row, block_a, bottom_row, block_b, spacing=0,
).properties(padding=0).configure_view(stroke=None)

chart.save("out.html", embed_options={"renderer": "svg", "actions": False})
